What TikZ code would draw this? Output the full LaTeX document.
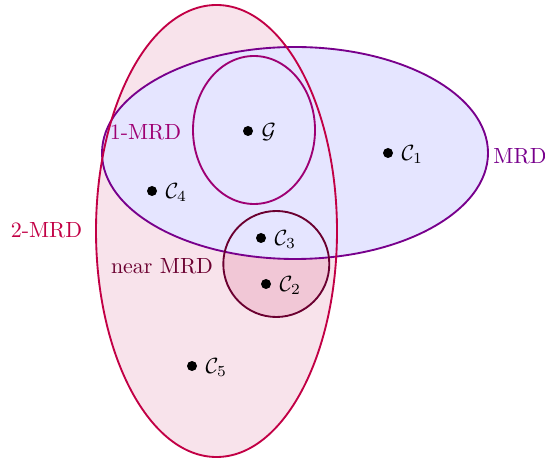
\documentclass[tikz,border=0pt]{standalone}
\usepackage{amsmath}
\usepackage{amsfonts}
\usepackage{amssymb}

\definecolor{twomrd}{rgb}{0.76,0,0.27}
\definecolor{onemrd}{rgb}{0.62,0,0.45}
\definecolor{nearmrd}{rgb}{0.42,0,0.19}
\definecolor{mrdcol}{rgb}{0.47,0,0.55}

\tikzset{
    region/.style={line width=0.85pt},
    pt/.style={anchor=base west, inner sep=0pt, xshift=6pt, yshift=-3.4pt}
}

\begin{document}
\begin{tikzpicture}[x=0.016cm,y=0.016cm]

\useasboundingbox (0,0) rectangle (545,461);

\coordinate (two) at (216.5,230);
\coordinate (mrd) at (295,308);
\coordinate (one) at (254,331);
\coordinate (near) at (276.3,197);

% fills first
\fill [twomrd!11] (two) ellipse (120.5 and 226);
\fill [twomrd!22] (near) circle (53);
\fill [blue!10] (mrd) ellipse (193 and 106);

% outlines
\draw [region, mrdcol] (mrd) ellipse (193 and 106);
\draw [region, onemrd] (one) ellipse (61 and 74);
\draw [region, nearmrd] (near) circle (53);
\draw [region, twomrd] (two) ellipse (120.5 and 226);

\coordinate (G) at (248,330);
\coordinate (C1) at (388,308);
\coordinate (C2) at (266,177);
\coordinate (C3) at (261,223);
\coordinate (C4) at (152,270);
\coordinate (C5) at (192,95);

\foreach \p/\l in {G/\mathcal{G},C1/\mathcal{C}_1,C2/\mathcal{C}_2,C3/\mathcal{C}_3,C4/\mathcal{C}_4,C5/\mathcal{C}_5}
    \fill (\p) circle (5) node [pt] {$\l$};

\node [text=onemrd] (l1) at (145.5,329) {1-MRD};
\node [text=mrdcol] (lm) at (520,305) {MRD};
\node [text=twomrd] (l2) at (46.5,231) {2-MRD};
\node [text=nearmrd] (ln) at (162,195) {near MRD};

\end{tikzpicture}
\end{document}
